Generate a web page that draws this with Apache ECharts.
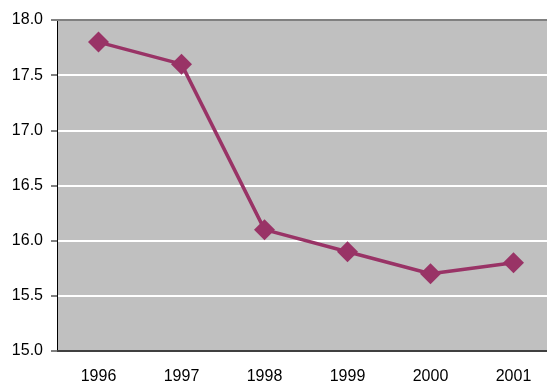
<!DOCTYPE html>
<html>
<head>
<meta charset="utf-8">
<script src="https://cdn.jsdelivr.net/npm/echarts@6/dist/echarts.min.js"></script>
<style>
  html, body { margin: 0; padding: 0; background: #ffffff; }
  #chart { width: 547px; height: 387px; }
</style>
</head>
<body>
<div id="chart"></div>
<script>
// Yearly values plotted as a single line with diamond markers
const years = ['1996', '1997', '1998', '1999', '2000', '2001'];
const values = [17.8, 17.6, 16.1, 15.9, 15.7, 15.8];
const yTicks = { min: 15, max: 18, step: 0.5 };

const labelFont = { color: '#000000', fontFamily: 'Liberation Sans, Arial, sans-serif', fontSize: 16 };

const chart = echarts.init(document.getElementById('chart'), null, { renderer: 'canvas' });

chart.setOption({
  animation: false,
  backgroundColor: '#ffffff',
  grid: {
    left: 57, top: 20, width: 498, bottom: 36,
    outerBoundsMode: 'none',
    containLabel: false,
    show: true, backgroundColor: '#c0c0c0', borderWidth: 0
  },
  xAxis: [
    {
      type: 'category',
      data: years,
      boundaryGap: true,
      axisLine: { show: true, lineStyle: { color: '#404040', width: 2 } },
      axisTick: { show: false },
      axisLabel: Object.assign({ margin: 18 }, labelFont),
      splitLine: { show: false }
    },
    {
      // thin frame line along the top of the plot
      type: 'category',
      data: years,
      position: 'top',
      axisLine: { show: true, lineStyle: { color: '#808080', width: 2 } },
      axisTick: { show: false },
      axisLabel: { show: false },
      splitLine: { show: false }
    }
  ],
  yAxis: {
    type: 'value',
    min: yTicks.min,
    max: yTicks.max,
    interval: yTicks.step,
    axisLine: { show: true, lineStyle: { color: '#000000', width: 1 } },
    axisTick: { show: true, length: 6, lineStyle: { color: '#808080', width: 2 } },
    axisLabel: Object.assign({
      margin: 14,
      formatter: v => v.toFixed(1)
    }, labelFont),
    splitLine: { show: true, lineStyle: { color: '#ffffff', width: 2 } }
  },
  series: [{
    type: 'line',
    data: values,
    symbol: 'diamond',
    symbolSize: 21,
    lineStyle: { color: '#993366', width: 3.5 },
    itemStyle: { color: '#993366' },
    z: 3
  }]
});
</script>
</body>
</html>
